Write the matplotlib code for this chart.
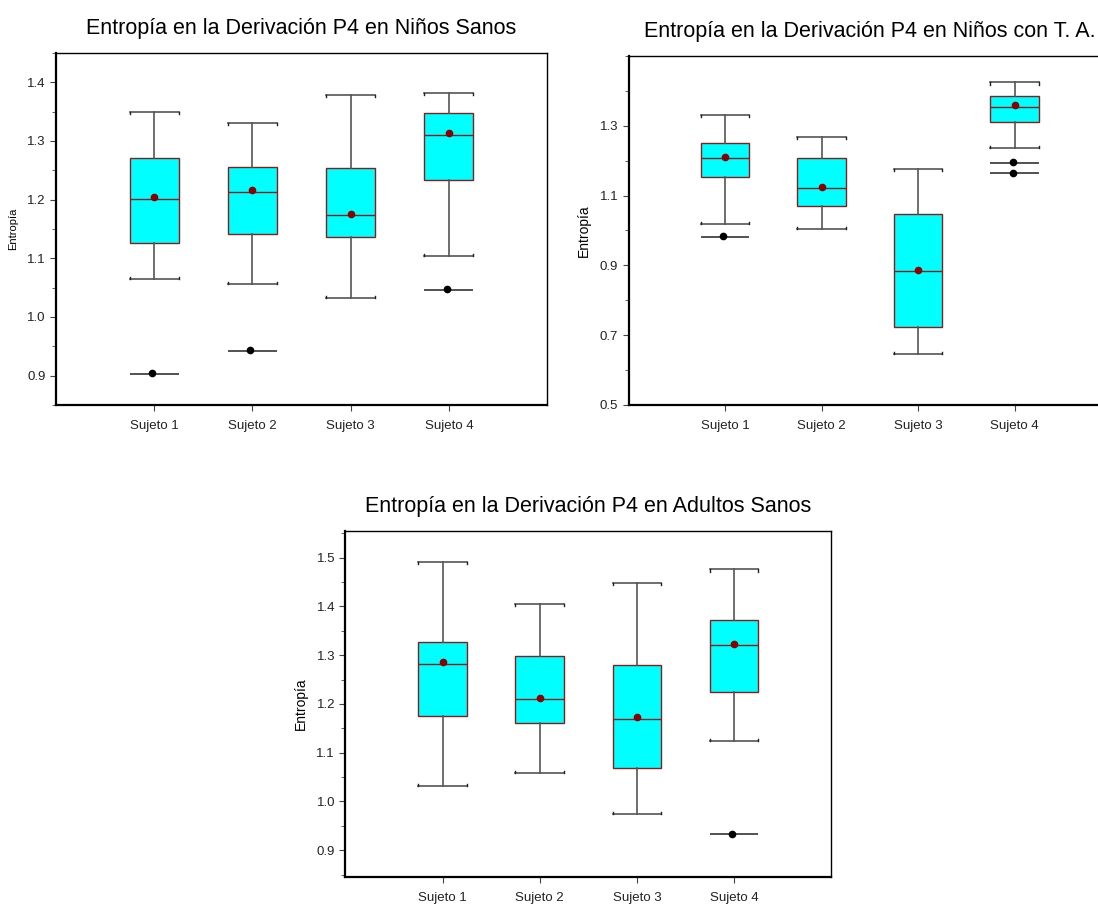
import numpy as np
import matplotlib
matplotlib.use("Agg")
import matplotlib.pyplot as plt
from matplotlib.ticker import MultipleLocator, FormatStrFormatter

plt.rcParams["font.family"] = ["Liberation Sans", "DejaVu Sans"]

BOX_FACE = "#00FFFF"
BOX_EDGE = "#8B1A1A"
WHISKER = "#555555"
MEAN_COLOR = "#8B0000"

labels = ["Sujeto 1", "Sujeto 2", "Sujeto 3", "Sujeto 4"]

# Niños Sanos
sanos_hi = [1.350, 1.331, 1.378, 1.382]
sanos_q3 = [1.271, 1.256, 1.254, 1.348]
sanos_med = [1.201, 1.213, 1.173, 1.311]
sanos_mean = [1.204, 1.216, 1.175, 1.314]
sanos_q1 = [1.126, 1.142, 1.136, 1.234]
sanos_lo = [1.065, 1.056, 1.033, 1.104]
sanos_out = [[0.904], [0.944], [], [1.048]]

# Niños con T. A.
ta_hi = [1.330, 1.267, 1.175, 1.424]
ta_q3 = [1.250, 1.207, 1.047, 1.384]
ta_med = [1.207, 1.122, 0.885, 1.355]
ta_mean = [1.210, 1.125, 0.887, 1.359]
ta_q1 = [1.153, 1.070, 0.724, 1.312]
ta_lo = [1.018, 1.005, 0.645, 1.236]
ta_out = [[0.985], [], [], [1.197, 1.166]]

# Adultos Sanos
ad_hi = [1.492, 1.405, 1.449, 1.476]
ad_q3 = [1.327, 1.299, 1.280, 1.373]
ad_med = [1.283, 1.211, 1.170, 1.321]
ad_mean = [1.286, 1.213, 1.173, 1.324]
ad_q1 = [1.175, 1.160, 1.068, 1.225]
ad_lo = [1.031, 1.058, 0.975, 1.123]
ad_out = [[], [], [], [0.934]]


def draw_panel(ax, hi, q3, med, mean, q1, lo, out, title, ylabel_size,
               ylim, major, minor):
    stats = []
    for i in range(4):
        stats.append(dict(label=labels[i], whishi=hi[i], q3=q3[i], med=med[i],
                          mean=mean[i], q1=q1[i], whislo=lo[i], fliers=[]))
    pos = np.arange(1, 5)
    w = 0.5
    ax.bxp(
        stats,
        positions=pos,
        widths=w,
        patch_artist=True,
        showmeans=True,
        showfliers=False,
        capwidths=w,
        boxprops=dict(facecolor=BOX_FACE, edgecolor=BOX_EDGE, linewidth=1.0),
        medianprops=dict(color=BOX_EDGE, linewidth=1.0),
        whiskerprops=dict(color=WHISKER, linewidth=1.2),
        capprops=dict(color=WHISKER, linewidth=1.2),
        meanprops=dict(marker="o", markerfacecolor=MEAN_COLOR,
                       markeredgecolor=MEAN_COLOR, markersize=4.5),
    )
    # small end ticks on the caps
    d = (ylim[1] - ylim[0]) * 0.006
    for p, h, l in zip(pos, hi, lo):
        for x in (p - w / 2, p + w / 2):
            ax.plot([x, x], [h, h - d], color="#222222", lw=1.0)
            ax.plot([x, x], [l, l + d], color="#222222", lw=1.0)
    # outliers: dot plus horizontal line
    for p, vals in zip(pos, out):
        for v in vals:
            ax.hlines(v - d * 0.4, p - w / 2, p + w / 2, color="#333333", lw=1.2)
            ax.plot([p - 0.02], [v], "o", color="black", markersize=4.5)

    ax.set_xlim(0, 5)
    ax.set_ylim(*ylim)
    ax.set_xticks(pos)
    ax.set_xticklabels(labels, fontsize=9.5, color="#222222")
    ax.yaxis.set_major_locator(MultipleLocator(major))
    ax.yaxis.set_minor_locator(MultipleLocator(minor))
    ax.yaxis.set_major_formatter(FormatStrFormatter("%.1f"))
    ax.tick_params(axis="y", which="major", labelsize=9.5, length=4,
                   labelcolor="#222222", color="#444444")
    ax.tick_params(axis="y", which="minor", length=3, color="#444444")
    ax.tick_params(axis="x", length=4, pad=7, color="#444444")
    ax.set_ylabel("Entropía", fontsize=ylabel_size, labelpad=6)
    ax.set_title(title, fontsize=15.5, pad=14)
    ax.spines["left"].set_linewidth(1.6)
    ax.spines["bottom"].set_linewidth(1.6)
    ax.spines["top"].set_linewidth(1.0)
    ax.spines["right"].set_linewidth(1.0)


fig = plt.figure(figsize=(10.98, 9.07), dpi=100)

ax1 = fig.add_axes([0.0510, 0.5535, 0.4472, 0.3881])
draw_panel(ax1, sanos_hi, sanos_q3, sanos_med, sanos_mean, sanos_q1, sanos_lo,
           sanos_out, "Entropía en la Derivación P4 en Niños Sanos", 8,
           (0.85, 1.45), 0.1, 0.05)

ax2 = fig.add_axes([0.5725, 0.5535, 0.4394, 0.3848])
draw_panel(ax2, ta_hi, ta_q3, ta_med, ta_mean, ta_q1, ta_lo,
           ta_out, "Entropía en la Derivación P4 en Niños con T. A.", 10,
           (0.5, 1.5), 0.2, 0.1)
ax2.set_yticks([0.5, 0.7, 0.9, 1.1, 1.3])

ax3 = fig.add_axes([0.3146, 0.0331, 0.4423, 0.3815])
draw_panel(ax3, ad_hi, ad_q3, ad_med, ad_mean, ad_q1, ad_lo,
           ad_out, "Entropía en la Derivación P4 en Adultos Sanos", 10,
           (0.845, 1.555), 0.1, 0.05)

fig.savefig("out.png", dpi=100)
